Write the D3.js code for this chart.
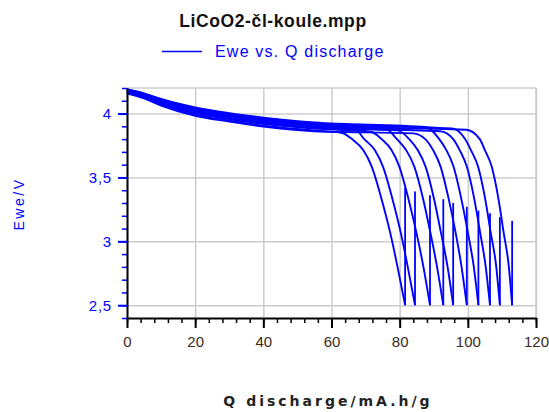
<!DOCTYPE html>
<html>
<head>
<meta charset="utf-8">
<script src="https://cdn.jsdelivr.net/npm/d3@7"></script>
<style>
  body { margin: 0; background: #fff; }
  text { font-family: "Liberation Sans", Arial, sans-serif; }
</style>
</head>
<body>
<svg></svg>
<script>
// ---- data ----
// every discharge shares the same Q points at the start
const headQ = [0, 5, 10, 20, 30, 40, 55];
// voltage of each discharge at headQ
const headV = [
    [4.162, 4.122, 4.068, 3.990, 3.945, 3.905, 3.868],
    [4.187, 4.154, 4.109, 4.041, 3.996, 3.961, 3.923],
    [4.168, 4.130, 4.078, 4.002, 3.957, 3.919, 3.882],
    [4.180, 4.145, 4.098, 4.028, 3.983, 3.946, 3.908],
    [4.173, 4.137, 4.087, 4.014, 3.969, 3.932, 3.894],
    [4.158, 4.118, 4.063, 3.983, 3.938, 3.898, 3.861],
    [4.190, 4.158, 4.114, 4.048, 4.003, 3.968, 3.930],
    [4.170, 4.133, 4.083, 4.008, 3.963, 3.925, 3.888],
    [4.183, 4.149, 4.103, 4.034, 3.989, 3.953, 3.916],
    [4.176, 4.141, 4.092, 4.021, 3.976, 3.939, 3.901]
];
// where each curve leaves the plateau
const kneeQ = [63.1, 66.6, 71.5, 76.0, 79.4, 84.0, 87.9, 91.9, 95.3, 99.5];
const kneeV = [3.848, 3.890, 3.858, 3.879, 3.868, 3.845, 3.893, 3.862, 3.884, 3.873];
// the falling part: Q at which each curve crosses these voltages
const tailV = [3.80, 3.714, 3.585, 3.33, 3.07, 2.81, 2.5];
const tailQ = [
    [66.0, 69.3, 71.8, 74.7, 77.2, 79.3, 81.6],
    [69.6, 72.7, 75.1, 77.9, 80.3, 82.3, 84.5],
    [74.7, 77.6, 79.9, 82.6, 84.9, 86.9, 88.9],
    [79.2, 81.9, 84.3, 86.9, 89.0, 90.9, 92.8],
    [82.8, 85.3, 87.6, 90.1, 92.1, 94.0, 95.7],
    [87.5, 89.8, 92.0, 94.4, 96.4, 98.1, 99.7],
    [91.6, 93.7, 95.8, 98.1, 100.0, 101.7, 103.1],
    [95.7, 97.6, 99.7, 101.9, 103.6, 105.2, 106.5],
    [99.2, 100.9, 103.0, 105.1, 106.7, 108.3, 109.4],
    [103.5, 105.0, 107.0, 109.0, 110.5, 112.0, 113.0]
];
// voltage reached right after the cut-off (the vertical jump)
const relaxV = [3.42, 3.39, 3.36, 3.33, 3.30, 3.27, 3.24, 3.22, 3.19, 3.16];

const xTicks = [0, 20, 40, 60, 80, 100, 120];
const xMinor = d3.range(0, 121, 4);
const yTicks = [2.5, 3, 3.5, 4];
const yTickLabels = ['2,5', '3', '3,5', '4'];
const yMinor = d3.range(24, 43).map(d => d / 10);

// ---- layout ----
const W = 549, H = 412;
const M = {left: 127, right: 13, top: 88, bottom: 94};
const IW = W - M.left - M.right;
const IH = H - M.top - M.bottom;
const BLUE = '#0000ff';

const svg = d3.select('svg').attr('width', W).attr('height', H);

const x = d3.scaleLinear().domain([0, 120]).range([0, IW]);
const y = d3.scaleLinear().domain([2.4, 4.2]).range([IH, 0]);

const g = svg.append('g').attr('transform', `translate(${M.left},${M.top})`);

// grid
g.append('g').call(d3.axisBottom(x).tickValues(xTicks).tickSize(IH).tickFormat(''))
    .call(a => a.select('.domain').remove())
    .selectAll('line').attr('stroke', '#cccccc').attr('stroke-width', 1.5);
g.append('g').call(d3.axisLeft(y).tickValues(yTicks).tickSize(-IW).tickFormat(''))
    .call(a => a.select('.domain').remove())
    .selectAll('line').attr('stroke', '#cccccc').attr('stroke-width', 1.5);
// frame top / right
g.append('line').attr('x1', 0).attr('x2', IW).attr('y1', 0).attr('y2', 0)
    .attr('stroke', '#cccccc').attr('stroke-width', 1.5);
g.append('line').attr('x1', IW).attr('x2', IW).attr('y1', 0).attr('y2', IH)
    .attr('stroke', '#cccccc').attr('stroke-width', 1.5);

// curves
const line = d3.line().x(d => x(d[0])).y(d => y(d[1])).curve(d3.curveMonotoneX);
const curves = headV.map((hv, i) => {
    const pts = headQ.map((q, j) => [q, hv[j]]);
    pts.push([kneeQ[i], kneeV[i]]);
    tailQ[i].forEach((q, j) => pts.push([q, tailV[j]]));
    return pts;
});
g.append('g').selectAll('path.dis').data(curves).join('path')
    .attr('class', 'dis')
    .attr('d', line)
    .attr('fill', 'none').attr('stroke', BLUE).attr('stroke-width', 1.9);
g.append('g').selectAll('line.relax').data(relaxV).join('line')
    .attr('class', 'relax')
    .attr('x1', (d, i) => x(tailQ[i][tailQ[i].length - 1]))
    .attr('x2', (d, i) => x(tailQ[i][tailQ[i].length - 1]))
    .attr('y1', y(2.5)).attr('y2', d => y(d))
    .attr('stroke', BLUE).attr('stroke-width', 1.8);

// x axis
const xa = g.append('g').attr('transform', `translate(0,${IH})`);
xa.append('g').call(d3.axisBottom(x).tickValues(xMinor).tickSize(5).tickFormat(''))
    .call(a => a.select('.domain').remove())
    .selectAll('line').attr('stroke', '#000').attr('stroke-width', 1.5);
xa.append('g').call(d3.axisBottom(x).tickValues(xTicks).tickSize(10).tickSizeOuter(0).tickPadding(8))
    .call(a => a.select('.domain').attr('stroke', '#000').attr('stroke-width', 2))
    .call(a => a.selectAll('line').attr('stroke', '#000').attr('stroke-width', 2))
    .call(a => a.selectAll('text').attr('font-size', 15).attr('fill', '#3a2a1a')
        .style('font-family', 'Liberation Sans, Arial, sans-serif'));

// y axis
const ya = g.append('g');
ya.append('g').call(d3.axisLeft(y).tickValues(yMinor).tickSize(5).tickFormat(''))
    .call(a => a.select('.domain').remove())
    .selectAll('line').attr('stroke', BLUE).attr('stroke-width', 1.5);
ya.append('g').call(d3.axisLeft(y).tickValues(yTicks).tickSize(9).tickSizeOuter(0).tickPadding(6)
        .tickFormat((d, i) => yTickLabels[i]))
    .call(a => a.select('.domain').attr('stroke', '#000').attr('stroke-width', 2))
    .call(a => a.selectAll('line').attr('stroke', BLUE).attr('stroke-width', 2))
    .call(a => a.selectAll('text').attr('font-size', 15).attr('letter-spacing', 0.8).attr('fill', BLUE)
        .style('font-family', 'Liberation Sans, Arial, sans-serif'));

// title & legend
svg.append('text').attr('x', 273).attr('y', 27).attr('text-anchor', 'middle')
    .attr('font-size', 17.5).attr('font-weight', 'bold').attr('letter-spacing', 0.6)
    .attr('fill', '#111').text('LiCoO2-čl-koule.mpp');
svg.append('line').attr('x1', 162).attr('x2', 202).attr('y1', 51.5).attr('y2', 51.5)
    .attr('stroke', BLUE).attr('stroke-width', 1.6);
svg.append('text').attr('x', 215).attr('y', 57)
    .attr('font-size', 16).attr('letter-spacing', 1.2)
    .attr('fill', BLUE).text('Ewe vs. Q discharge');

// axis titles
svg.append('text').attr('x', 328).attr('y', 406).attr('text-anchor', 'middle')
    .attr('font-size', 14).attr('font-weight', 'bold').attr('letter-spacing', 3)
    .style('font-family', 'DejaVu Sans, sans-serif')
    .attr('fill', '#222').text('Q discharge/mA.h/g');
svg.append('text').attr('transform', 'translate(24,204) rotate(-90)')
    .attr('text-anchor', 'middle').attr('font-size', 14).attr('letter-spacing', 2.5)
    .attr('fill', BLUE).text('Ewe/V');
</script>
</body>
</html>
